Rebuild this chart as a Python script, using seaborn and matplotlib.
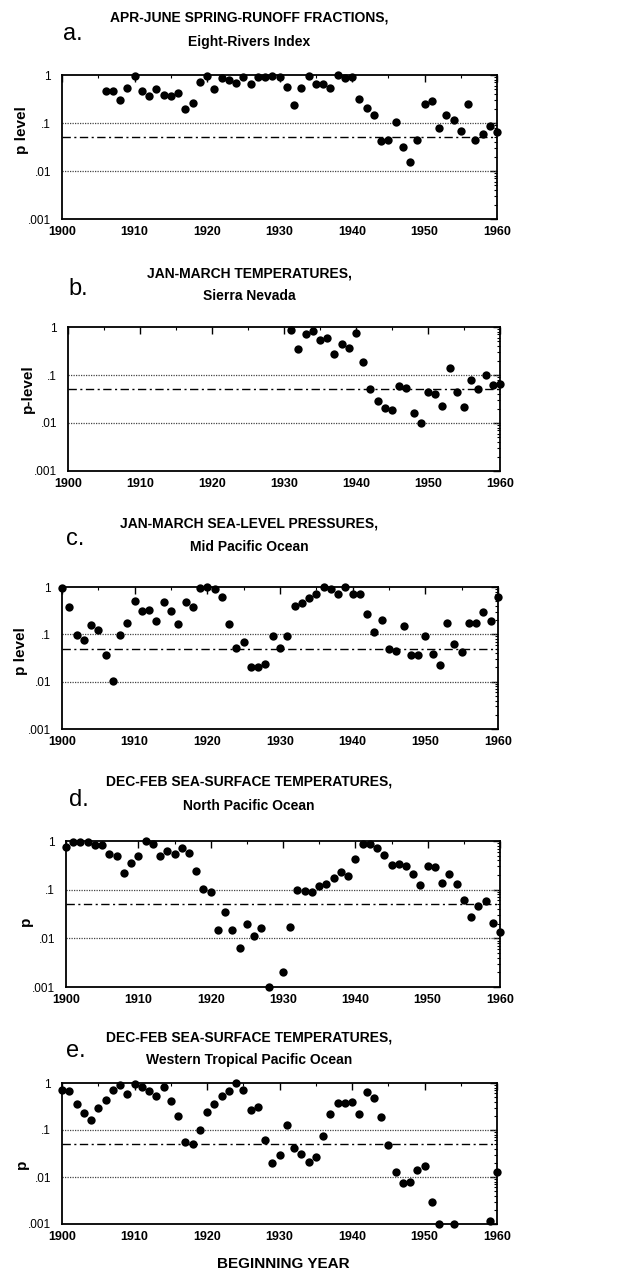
import matplotlib
matplotlib.use("Agg")
import matplotlib.pyplot as plt
from matplotlib.ticker import FixedLocator, MultipleLocator, LogLocator, NullFormatter
import seaborn as sns
import pandas as pd

sns.set_theme(style="white")
plt.rcParams['font.family'] = ['Liberation Sans', 'DejaVu Sans']
plt.rcParams['text.color'] = 'black'
plt.rcParams['axes.labelcolor'] = 'black'
plt.rcParams['xtick.color'] = 'black'
plt.rcParams['ytick.color'] = 'black'

# ---- data (p-levels) ----
years_a = list(range(1906, 1961))
p_a = [0.47, 0.47, 0.30, 0.53, 0.95, 0.47, 0.36, 0.50, 0.39, 0.36,
       0.42, 0.20, 0.26, 0.73, 0.97, 0.51, 0.85, 0.79, 0.69, 0.92,
       0.65, 0.89, 0.92, 0.97, 0.89, 0.56, 0.24, 0.53, 0.97, 0.64,
       0.64, 0.53, 0.98, 0.87, 0.89, 0.31, 0.21, 0.147, 0.042, 0.045,
       0.105, 0.031, 0.0156, 0.044, 0.25, 0.29, 0.078, 0.15, 0.117, 0.067,
       0.25, 0.044, 0.059, 0.085, 0.064]

years_b = list(range(1931, 1961))
p_b = [0.85, 0.35, 0.70, 0.81, 0.53, 0.60, 0.28, 0.44, 0.37, 0.75,
       0.186, 0.052, 0.0285, 0.021, 0.019, 0.058, 0.053, 0.016, 0.0098, 0.044,
       0.040, 0.023, 0.14, 0.045, 0.022, 0.080, 0.050, 0.10, 0.062, 0.066]

years_c = list(range(1900, 1961))
p_c = [0.97, 0.37, 0.095, 0.076, 0.155, 0.125, 0.037, 0.0105, 0.095, 0.17,
       0.51, 0.31, 0.33, 0.19, 0.49, 0.31, 0.165, 0.49, 0.38, 0.95,
       1.0, 0.91, 0.62, 0.165, 0.052, 0.070, 0.020, 0.020, 0.024, 0.09,
       0.052, 0.094, 0.40, 0.46, 0.59, 0.72, 1.0, 0.91, 0.72, 0.98,
       0.72, 0.72, 0.265, 0.114, 0.20, 0.048, 0.045, 0.15, 0.037, 0.037,
       0.09, 0.039, 0.023, 0.17, 0.063, 0.042, 0.17, 0.17, 0.29, 0.195,
       0.62]

years_d = list(range(1900, 1929)) + list(range(1930, 1961))
p_d = [0.75, 0.94, 0.94, 0.94, 0.83, 0.83, 0.53, 0.50, 0.22, 0.36,
       0.49, 1.0, 0.85, 0.50, 0.61, 0.53, 0.71, 0.56, 0.245, 0.103,
       0.088, 0.0146, 0.034, 0.015, 0.0063, 0.020, 0.011, 0.016, 0.001,
       0.002, 0.017, 0.10, 0.094, 0.088, 0.117, 0.133, 0.177, 0.234, 0.194,
       0.42, 0.88, 0.88, 0.73, 0.52, 0.32, 0.34, 0.30, 0.21, 0.123,
       0.31, 0.29, 0.14, 0.21, 0.13, 0.060, 0.027, 0.047, 0.058, 0.021,
       0.0135]

years_e = list(range(1900, 1953)) + [1954, 1959, 1960]
p_e = [0.72, 0.67, 0.36, 0.23, 0.16, 0.30, 0.44, 0.71, 0.91, 0.57,
       0.97, 0.83, 0.67, 0.54, 0.83, 0.42, 0.20, 0.055, 0.051, 0.098,
       0.24, 0.355, 0.54, 0.66, 1.0, 0.72, 0.265, 0.31, 0.062, 0.020,
       0.029, 0.126, 0.042, 0.031, 0.021, 0.027, 0.073, 0.22, 0.38, 0.38,
       0.39, 0.22, 0.65, 0.49, 0.19, 0.049, 0.013, 0.0075, 0.008, 0.014,
       0.017, 0.0029, 0.001, 0.001, 0.00115, 0.013]

panel_letters = ["a.", "b.", "c.", "d.", "e."]
titles_1 = ["APR-JUNE SPRING-RUNOFF FRACTIONS,",
            "JAN-MARCH TEMPERATURES,",
            "JAN-MARCH SEA-LEVEL PRESSURES,",
            "DEC-FEB SEA-SURFACE TEMPERATURES,",
            "DEC-FEB SEA-SURFACE TEMPERATURES,"]
titles_2 = ["Eight-Rivers Index", "Sierra Nevada", "Mid Pacific Ocean",
            "North Pacific Ocean", "Western Tropical Pacific Ocean"]
ylabels = ["p level", "p-level", "p level", "p", "p"]
ref_levels = [0.1, 0.05, 0.01]
ytick_vals = [0.001, 0.01, 0.1, 1]
ytick_labels = [".001", ".01", ".1", "1"]
xtick_vals = [1900, 1910, 1920, 1930, 1940, 1950, 1960]

series = [(years_a, p_a), (years_b, p_b), (years_c, p_c),
          (years_d, p_d), (years_e, p_e)]

W, H = 621, 1274
fig = plt.figure(figsize=(W / 100, H / 100), dpi=100)
fig.patch.set_facecolor("white")

# axes boxes in pixels: left, right, top, bottom
boxes = [(62, 497, 75, 219), (68, 500, 327, 471), (62, 498, 587, 729),
         (66, 500, 841, 987), (62, 497, 1083, 1224)]
title_y = [(18, 42), (273, 296), (524, 547), (782, 806), (1038, 1060)]
letter_pos = [(63, 34), (68, 289), (66, 539), (69, 800), (66, 1051)]
ylabel_y = [0.62, 0.57, 0.55, 0.45, 0.42]

for i, ((xs, ps), (l, r, t, b)) in enumerate(zip(series, boxes)):
    ax = fig.add_axes([l / W, 1 - b / H, (r - l) / W, (b - t) / H])
    df = pd.DataFrame({"year": xs, "p": ps})
    ax.set_yscale("log")
    ax.axhline(ref_levels[0], color="#444444", lw=0.9, ls=(0, (1, 1)), zorder=1)
    ax.axhline(ref_levels[1], color="black", lw=1.0, ls=(0, (6, 2.5, 1.5, 2.5)), zorder=1)
    ax.axhline(ref_levels[2], color="#444444", lw=0.9, ls=(0, (1, 1)), zorder=1)
    sns.scatterplot(data=df, x="year", y="p", ax=ax, color="black", s=36,
                    edgecolor="black", linewidth=0, clip_on=False, zorder=3)
    ax.set_xlim(1900, 1960)
    ax.set_ylim(0.001, 1)
    ax.xaxis.set_major_locator(FixedLocator(xtick_vals))
    ax.xaxis.set_minor_locator(MultipleLocator(5))
    ax.set_xticklabels([str(v) for v in xtick_vals], fontsize=9, fontweight="bold")
    ax.yaxis.set_major_locator(FixedLocator(ytick_vals))
    ax.yaxis.set_minor_locator(LogLocator(base=10, subs=range(2, 10)))
    ax.yaxis.set_minor_formatter(NullFormatter())
    ax.set_yticklabels(ytick_labels, fontsize=8.5)
    ax.tick_params(which="both", direction="in", top=True, right=True)
    ax.tick_params(axis="x", pad=5)
    ax.tick_params(axis="y", pad=8)
    ax.tick_params(which="major", length=5, width=1)
    ax.tick_params(which="minor", length=2.5, width=0.8)
    for s in ax.spines.values():
        s.set_color("black")
        s.set_linewidth(1.3)
    ax.set_xlabel("")
    ax.set_ylabel(ylabels[i], fontsize=11, fontweight="bold")
    ax.yaxis.set_label_coords(-0.077, ylabel_y[i])

    fig.text(249 / W, 1 - title_y[i][0] / H, titles_1[i], ha="center", va="center",
             fontsize=10, fontweight="bold")
    fig.text(249 / W, 1 - title_y[i][1] / H, titles_2[i], ha="center", va="center",
             fontsize=10, fontweight="bold")
    fig.text(letter_pos[i][0] / W, 1 - letter_pos[i][1] / H, panel_letters[i],
             ha="left", va="center", fontsize=17)

fig.text(283 / W, 1 - 1264 / H, "BEGINNING YEAR", ha="center", va="center",
         fontsize=11, fontweight="bold")

fig.savefig("out.png", dpi=100, facecolor="white")
